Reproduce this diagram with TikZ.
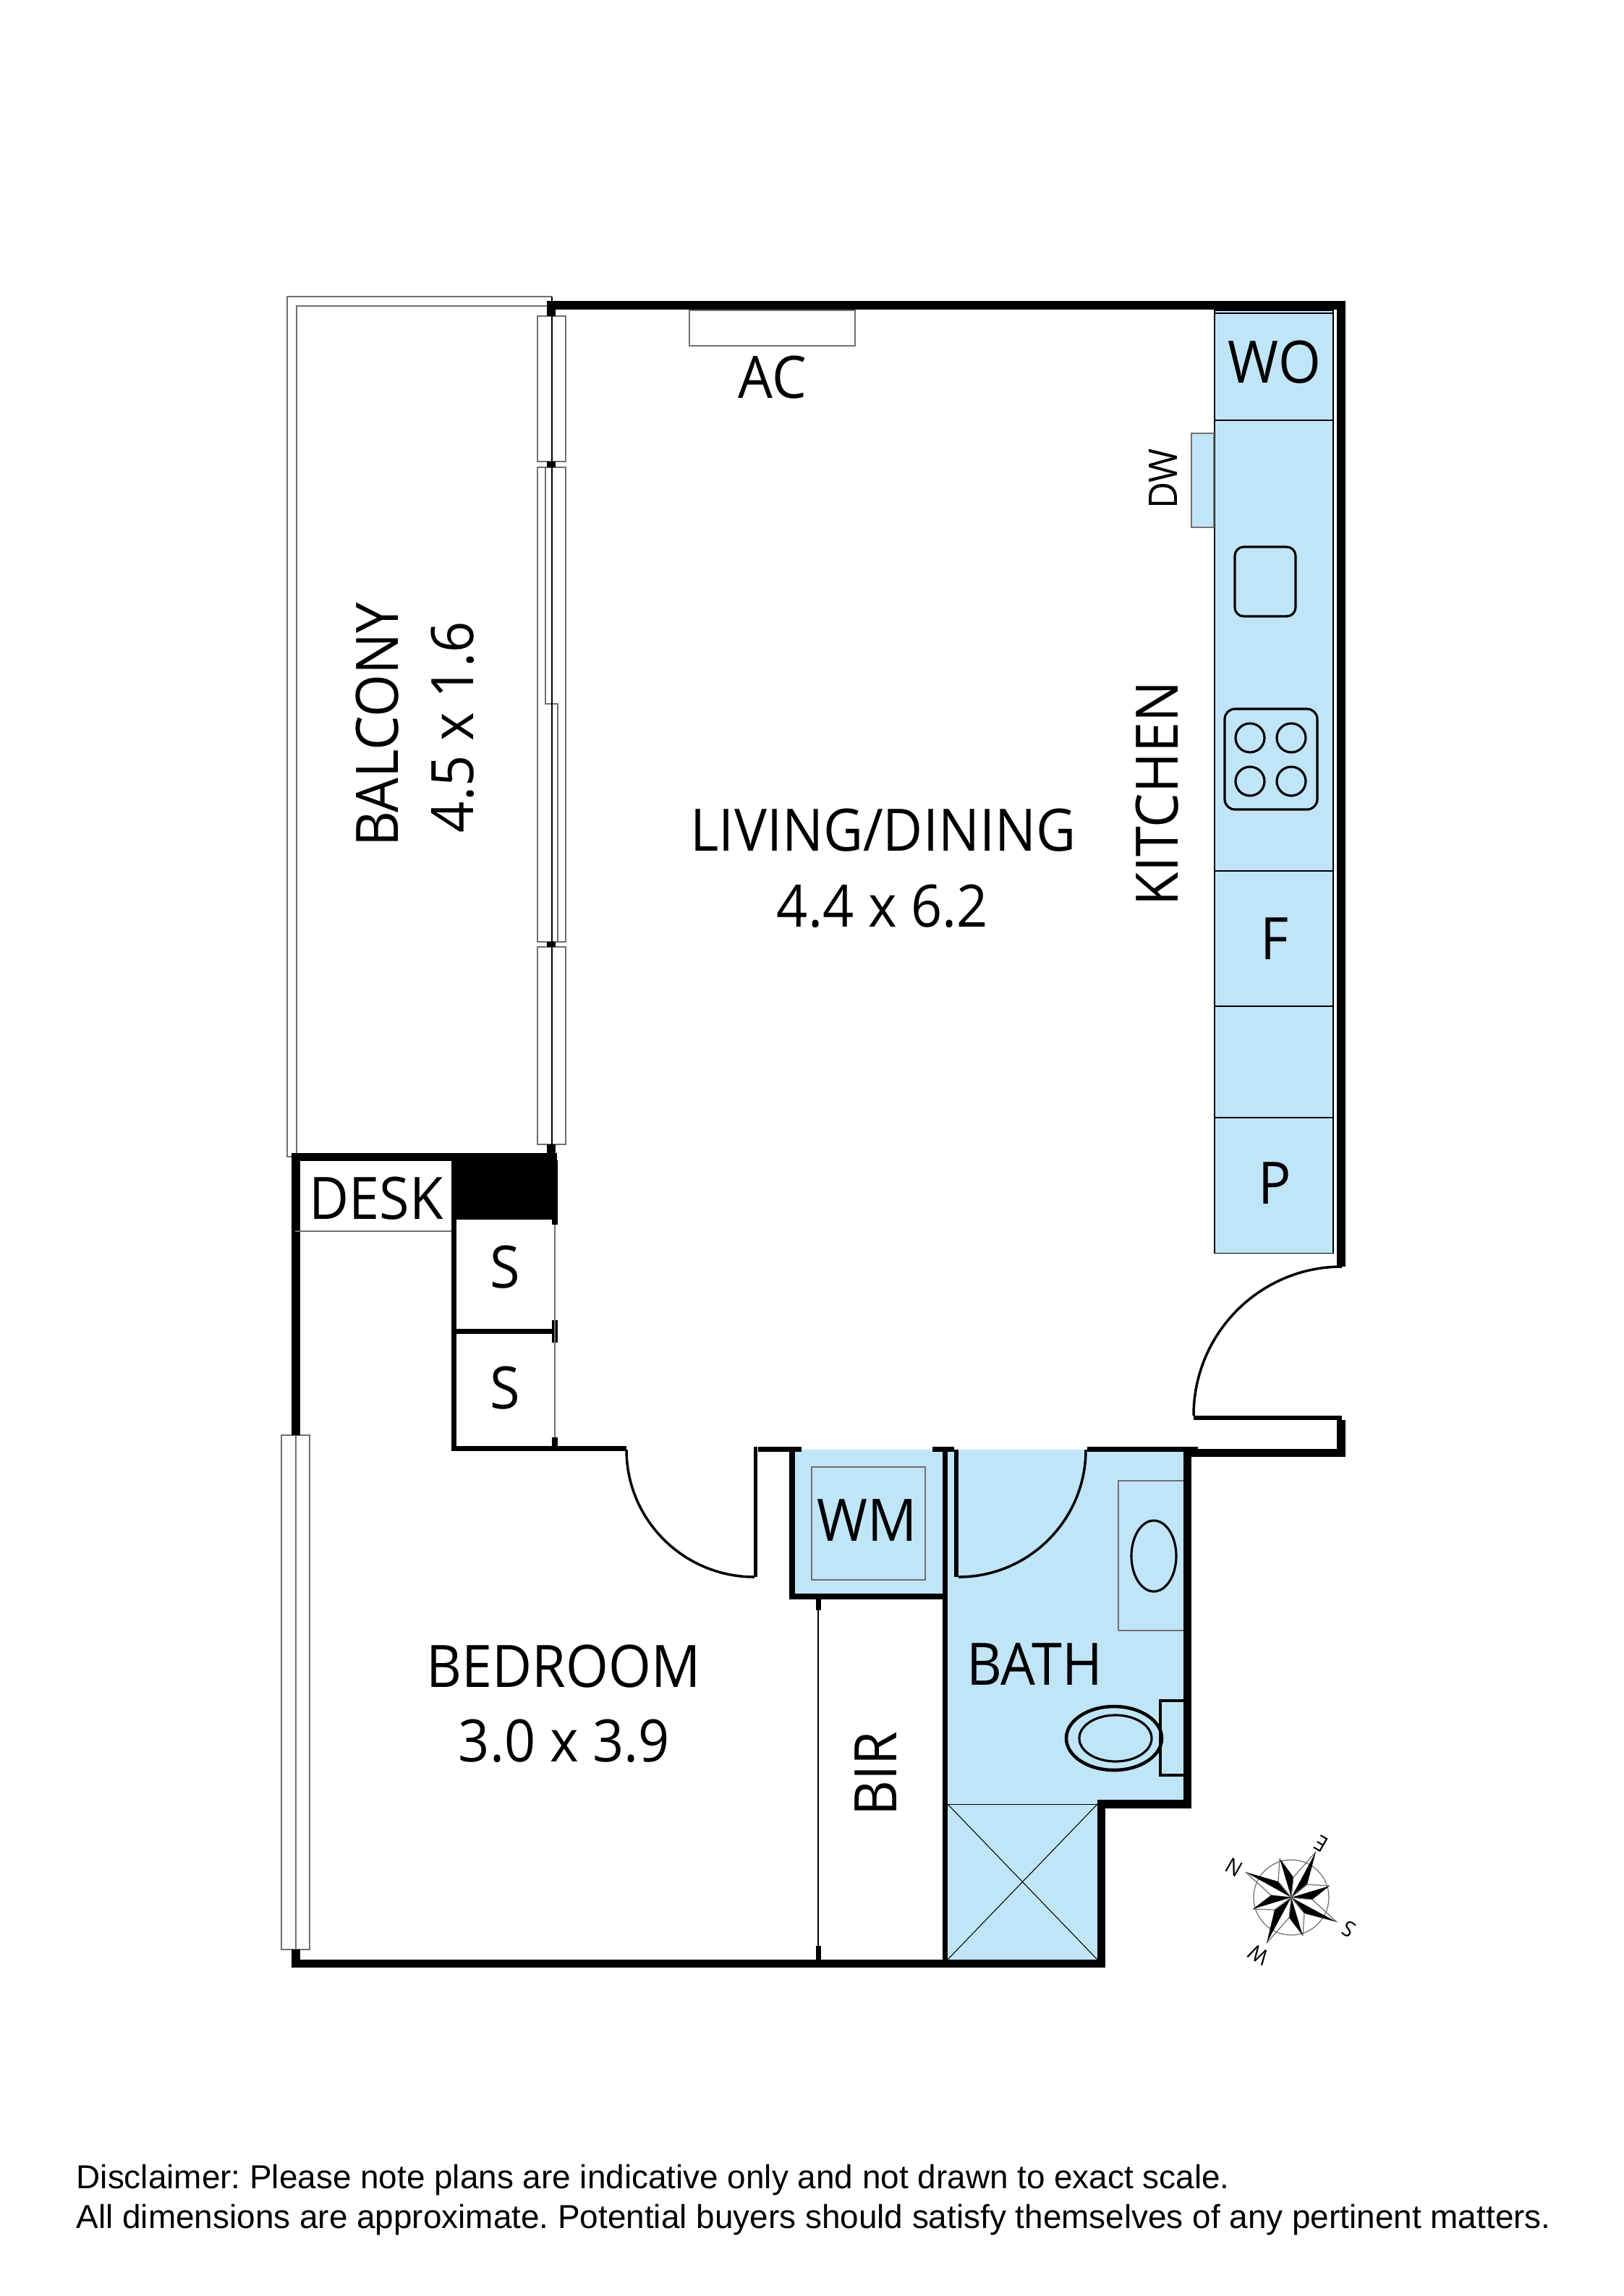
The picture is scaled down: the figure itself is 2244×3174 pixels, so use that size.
\documentclass[tikz,border=0pt]{standalone}
\usepackage{fontspec}
\setmainfont[FakeStretch=0.935]{Open Sans}
\newfontfamily\notefont{Liberation Sans}
\definecolor{wetblue}{HTML}{C0E5F7}
\definecolor{thingrey}{HTML}{707070}
\tikzset{
  wall/.style={fill=black, draw=none},
  wet/.style={fill=wetblue, draw=none},
  fine/.style={draw=thingrey, line width=0.35pt},
  hair/.style={draw=black, line width=0.3pt},
  fitting/.style={draw=black, line width=0.9pt},
  swing/.style={draw=black, line width=1pt},
  roomlabel/.style={font=\fontsize{23}{25}\selectfont, inner sep=0pt},
  smalllabel/.style={font=\fontsize{15.5}{17}\selectfont, inner sep=0pt},
  compasslabel/.style={font=\fontsize{8.5}{9}\selectfont, inner sep=0pt, rotate=150},
  notelabel/.style={font=\notefont\frenchspacing\fontsize{13.05}{15.6}\selectfont, inner sep=0pt, anchor=north west, align=left},
}
\begin{document}
\begin{tikzpicture}[x=0.01cm, y=-0.01cm]
  \useasboundingbox (0,0) rectangle (2244,3174);
  % wet areas
  \fill[wet] (1679,429) rectangle (1843,1732);
  \fill[wet] (1647,599) rectangle (1678,729);
  \fill[wet] (1099,2004) rectangle (1303,2203);
  \fill[wet] (1310,2004) rectangle (1636,2494);
  \fill[wet] (1310,2494) rectangle (1517,2709);
  % balcony
  \draw[fine] (403,1599) -- (397,1599) -- (397,410) -- (763,410);
  \draw[fine] (410,1594) -- (410,423) -- (756,423);
  % sliding doors
  \draw[fine] (743,437) rectangle (782,638);
  \draw[fine] (743,646) rectangle (782,1302);
  \draw[fine] (754,646) -- (754,973) -- (771,973) -- (771,1302);
  \draw[fine] (743,1309) rectangle (782,1582);
  \draw[hair] (763,410) -- (763,1582);
  % bedroom window
  \draw[fine] (389,1984) rectangle (428,2695);
  \draw[fine] (409,1984) -- (409,2695);
  % walls
  \fill[wall] (756,416) rectangle (768,437);
  \fill[wall] (768,416) rectangle (1860,428);
  \fill[wall] (1848,416) rectangle (1860,1751);
  \fill[wall] (756,638) rectangle (768,646);
  \fill[wall] (756,1302) rectangle (768,1309);
  \fill[wall] (756,1582) rectangle (768,1594);
  \fill[wall] (403,1594) rectangle (768,1605);
  \fill[wall] (624,1594) rectangle (770,1686);
  \fill[wall] (763,1604) rectangle (771,1693);
  \fill[wall] (403,1594) rectangle (415,1984);
  \fill[wall] (403,2695) rectangle (415,2720);
  \fill[wall] (403,2709) rectangle (1528,2720);
  \fill[wall] (624,1686) rectangle (631,2006);
  \fill[wall] (631,1837) rectangle (763,1844);
  \fill[wall] (763,1825) rectangle (771,1856);
  \fill[wall] (763,1987) rectangle (771,1999);
  \fill[wall] (624,1999) rectangle (866,2006);
  \fill[wall] (1042,2000) rectangle (1047,2180);
  \fill[wall] (1048,2000) rectangle (1108,2007);
  \fill[wall] (1091,2000) rectangle (1099,2211);
  \fill[wall] (1091,2203) rectangle (1310,2211);
  \fill[wall] (1303,2000) rectangle (1310,2720);
  \fill[wall] (1289,2000) rectangle (1319,2007);
  \fill[wall] (1319,2004) rectangle (1325,2180);
  \fill[wall] (1128,2211) rectangle (1135,2226);
  \fill[wall] (1128,2690) rectangle (1135,2709);
  \fill[wall] (1503,2000) rectangle (1656,2007);
  \fill[wall] (1636,2000) rectangle (1647,2500);
  \fill[wall] (1517,2488) rectangle (1647,2500);
  \fill[wall] (1517,2488) rectangle (1528,2720);
  \fill[wall] (1647,2003) rectangle (1860,2014);
  \fill[wall] (1848,1963) rectangle (1860,2014);
  \fill[wall] (1650,1957) rectangle (1855,1963);
  % thin partitions
  \draw[fine] (408,1702) -- (624,1702);
  \draw[fine] (767,1693) -- (767,1987);
  \draw[hair] (1131,2226) -- (1131,2690);
  % doors
  \draw[swing] (866,2004) arc[start angle=180, end angle=90, x radius=177, y radius=176];
  \draw[swing] (1501,2004) arc[start angle=0, end angle=90, x radius=176, y radius=176];
  \draw[swing] (1650,1957) arc[start angle=180, end angle=270, x radius=205, y radius=206];
  % kitchen
  \draw[hair] (1843,1732) -- (1679,1732) -- (1679,429) -- (1843,429) -- cycle;
  \draw[hair] (1679,433) -- (1843,433);
  \draw[hair] (1679,581) -- (1843,581);
  \draw[hair] (1679,1204) -- (1843,1204);
  \draw[hair] (1679,1391) -- (1843,1391);
  \draw[hair] (1679,1545) -- (1843,1545);
  \draw[fine] (1647,599) rectangle (1678,729);
  \draw[fitting, rounded corners=3.5pt] (1707,756) rectangle (1791,852);
  \draw[fitting, rounded corners=4pt] (1693,980) rectangle (1821,1119);
  \foreach \bx in {1728,1785}
    \foreach \by in {1020,1080}
      \draw[fitting] (\bx,\by) circle[radius=20];
  % air conditioner
  \draw[fine] (953,429) rectangle (1182,478);
  % laundry
  \draw[fine] (1122,2028) rectangle (1279,2184);
  % bathroom
  \draw[fine] (1636,2047) -- (1546,2047) -- (1546,2254) -- (1636,2254);
  \draw[fitting] (1595,2151) ellipse[x radius=31, y radius=49];
  \draw[fitting, line width=1.3pt] (1636,2351) -- (1604,2351) -- (1604,2454) -- (1636,2454);
  \draw[fitting, line width=1.3pt] (1540,2403) ellipse[x radius=66, y radius=44];
  \draw[fitting] (1542,2403) ellipse[x radius=50, y radius=32];
  \draw[hair] (1310,2494) -- (1517,2494);
  \draw[hair] (1310,2494) -- (1517,2709);
  \draw[hair] (1310,2709) -- (1517,2494);
  % rooms
  \node[roomlabel, rotate=90] (balconyname) at (522,1002) {BALCONY};
  \node[roomlabel, rotate=90] (balconysize) at (626,1005) {4.5 x 1.6};
  \node[roomlabel] (livingname) at (1221,1148) {LIVING/DINING};
  \node[roomlabel] (livingsize) at (1220,1253) {4.4 x 6.2};
  \node[roomlabel] (acname) at (1068,522) {AC};
  \node[roomlabel, rotate=90] (kitchenname) at (1600,1097) {KITCHEN};
  \node[roomlabel] (woname) at (1762,501) {WO};
  \node[smalllabel, rotate=90] (dwname) at (1608,662) {DW};
  \node[roomlabel] (fname) at (1762,1298) {F};
  \node[roomlabel] (pname) at (1762,1636) {P};
  \node[roomlabel] (deskname) at (520,1657) {DESK};
  \node[roomlabel] (sname) at (698,1752) {S};
  \node[roomlabel] (stwoname) at (698,1919) {S};
  \node[roomlabel] (bedname) at (779,2304) {BEDROOM};
  \node[roomlabel] (bedsize) at (780,2407) {3.0 x 3.9};
  \node[roomlabel] (wmname) at (1199,2102) {WM};
  \node[roomlabel] (bathname) at (1430,2300) {BATH};
  \node[roomlabel, rotate=90] (birname) at (1211,2452) {BIR};
  % compass
  \draw[fine] (1785,2623) circle[radius=52];
  \foreach \tx/\ty/\wx/\wy/\bx/\by in {
      -63/-35/-28/-3/-18/-22, -16/-54/-18/-22/3/-28, 34/-63/3/-28/22/-18,
      53/-16/22/-18/29/3, 63/34/29/3/18/22, 16/53/18/22/-3/28,
      -34/63/-3/28/-23/17, -53/16/-23/17/-28/-3}{
    \draw[fine] (1785+\tx,2623+\ty) -- (1785+\wx,2623+\wy) -- (1785,2623);
    \fill[black] (1785+\tx,2623+\ty) -- (1785+\bx,2623+\by) -- (1785,2623) -- cycle;
  }
  \node[compasslabel] (north) at (1706,2581) {N};
  \node[compasslabel] (east) at (1826,2549) {E};
  \node[compasslabel] (south) at (1865,2667) {S};
  \node[compasslabel] (west) at (1740,2702) {W};
  % disclaimer
  \node[notelabel] (disclaimer) at (105,2992) {Disclaimer: Please note plans are indicative only and not drawn to exact scale.\\All dimensions are approximate. Potential buyers should satisfy themselves of any pertinent matters.};
\end{tikzpicture}
\end{document}
